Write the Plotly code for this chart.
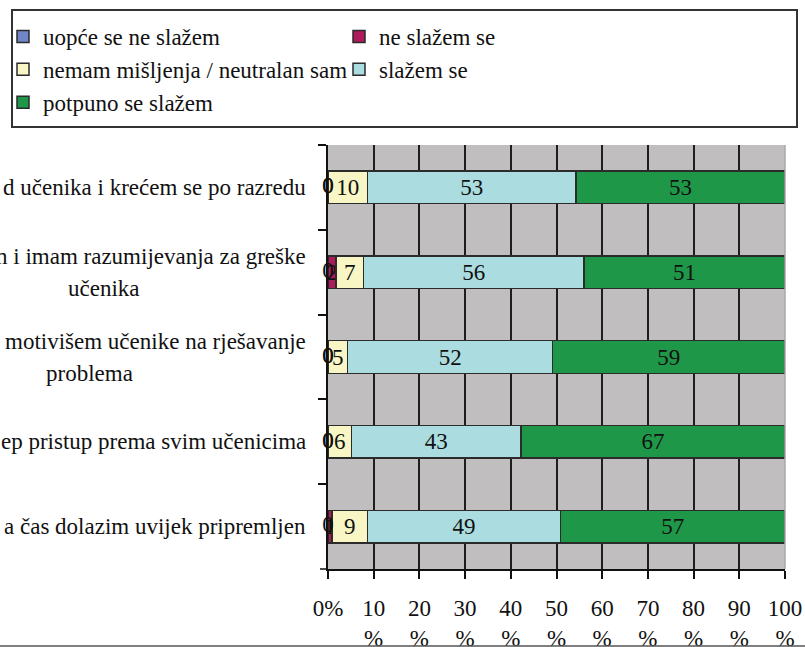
import plotly.graph_objects as go

# ---------------- data ----------------
categories = [
    "d učenika i krećem se po razredu",
    "n i imam razumijevanja za greške<br>učenika",
    "motivišem učenike na rješavanje<br>problema",
    "ep pristup prema svim učenicima",
    "a čas dolazim uvijek pripremljen",
]
series_names = [
    "uopće se ne slažem",
    "ne slažem se",
    "nemam mišljenja / neutralan sam",
    "slažem se",
    "potpuno se slažem",
]
uopce_se_ne_slazem = [0, 0, 0, 0, 0]
ne_slazem_se = [0, 2, 0, 0, 1]
neutralan = [10, 7, 5, 6, 9]
slazem_se = [53, 56, 52, 43, 49]
potpuno_se_slazem = [53, 51, 59, 67, 57]
x_tick_values = [0, 10, 20, 30, 40, 50, 60, 70, 80, 90, 100]
x_tick_labels = ["0%", "10<br>%", "20<br>%", "30<br>%", "40<br>%", "50<br>%",
                 "60<br>%", "70<br>%", "80<br>%", "90<br>%", "100<br>%"]

series_values = [uopce_se_ne_slazem, ne_slazem_se, neutralan, slazem_se, potpuno_se_slazem]
colors = ["#6F87C6", "#AE1A5C", "#F8F6C4", "#ABDDE0", "#1F9748"]

FONT = "Liberation Serif"
FS = 23

W, H = 805, 647
ML, MR, MT, MB = 328, 20, 145, 78
PW = W - ML - MR
PH = H - MT - MB


def px_x(px):
    return (px - ML) / PW


def px_y(py):
    return (H - MB - py) / PH


fig = go.Figure()
for name, vals, col in zip(series_names, series_values, colors):
    fig.add_trace(go.Bar(
        y=categories,
        x=vals,
        name=name,
        orientation="h",
        width=0.385,
        marker=dict(color=col, line=dict(color="#2b2b2b", width=1.5)),
        text=[str(v) for v in vals],
        texttemplate="%{text}",
        textposition=["none" if v == 0 else "inside" for v in vals],
        insidetextanchor="middle",
        constraintext="none",
        textfont=dict(family=FONT, size=FS, color="#111111"),
        cliponaxis=False,
        hoverinfo="skip",
    ))

# labels of zero-valued segments, drawn on top at their stacked position
totals = [sum(series_values[s][i] for s in range(len(series_values))) for i in range(len(categories))]
zero_x, zero_y, zero_t = [], [], []
for s, vals in enumerate(series_values):
    for i, v in enumerate(vals):
        if v == 0:
            before = sum(series_values[k][i] for k in range(s))
            zero_x.append(before / totals[i] * 100)
            zero_y.append(categories[i])
            zero_t.append(str(v))
fig.add_trace(go.Scatter(
    x=zero_x, y=zero_y, text=zero_t, mode="text", textposition="middle center",
    textfont=dict(family=FONT, size=FS, color="#111111"),
    showlegend=False, cliponaxis=False, hoverinfo="skip",
))

# category labels (visible parts, as in the reference)
second_line_centers = {1: 104, 2: 89}
annotations = []
for i, cat in enumerate(categories):
    lines = cat.split("<br>")
    if len(lines) == 1:
        annotations.append(dict(x=px_x(308), xref="paper", y=i, yref="y",
                                text=lines[0], showarrow=False, xanchor="right",
                                yanchor="middle", font=dict(family=FONT, size=FS, color="#111")))
    else:
        annotations.append(dict(x=px_x(308), xref="paper", y=i, yref="y", yshift=16,
                                text=lines[0], showarrow=False, xanchor="right",
                                yanchor="middle", font=dict(family=FONT, size=FS, color="#111")))
        annotations.append(dict(x=px_x(second_line_centers[i]), xref="paper", y=i, yref="y",
                                yshift=-16, text=lines[1], showarrow=False, xanchor="center",
                                yanchor="middle", font=dict(family=FONT, size=FS, color="#111")))

shapes = [
    # legend frame
    dict(type="rect", xref="paper", yref="paper",
         x0=px_x(12), x1=px_x(797), y0=px_y(127), y1=px_y(10),
         line=dict(color="#333333", width=2), fillcolor="rgba(0,0,0,0)", layer="above"),
    # light right border of plot area
    dict(type="line", xref="paper", yref="paper", x0=1, x1=1, y0=0, y1=1,
         line=dict(color="#A8A8A8", width=1.5), layer="above"),
    # short extension of the x axis line to the left of 0
    dict(type="line", xref="paper", yref="paper", x0=px_x(320), x1=0, y0=0, y1=0,
         line=dict(color="#111111", width=1.5)),
    # bottom frame line
    dict(type="line", xref="paper", yref="paper", x0=px_x(0), x1=px_x(805),
         y0=px_y(646), y1=px_y(646), line=dict(color="#555555", width=1.5)),
]

fig.update_layout(
    width=W, height=H,
    margin=dict(l=ML, r=MR, t=MT, b=MB, autoexpand=False),
    barmode="stack",
    barnorm="percent",
    paper_bgcolor="white",
    plot_bgcolor="#C0BEBF",
    font=dict(family=FONT, size=FS, color="#111111"),
    showlegend=True,
    legend=dict(
        orientation="h",
        x=px_x(3), xref="paper", xanchor="left",
        y=px_y(15), yref="paper", yanchor="top",
        entrywidth=291, entrywidthmode="pixels",
        font=dict(family=FONT, size=FS, color="#111111"),
        bgcolor="rgba(0,0,0,0)",
        borderwidth=0,
        traceorder="normal",
    ),
    xaxis=dict(
        range=[0, 100],
        tickmode="array", tickvals=x_tick_values, ticktext=x_tick_labels,
        showgrid=True, gridcolor="#1e1e1e", gridwidth=1.5,
        zeroline=False,
        showline=True, linecolor="#111111", linewidth=1.5,
        ticks="outside", ticklen=8, tickwidth=1.5, tickcolor="#111111",
        ticklabelstandoff=10,
        tickfont=dict(family=FONT, size=FS, color="#111111"),
        fixedrange=True,
    ),
    yaxis=dict(
        autorange="reversed",
        showticklabels=False,
        ticks="outside", tickson="boundaries", ticklen=8, tickwidth=1.5, tickcolor="#111111",
        showgrid=False, zeroline=False,
        showline=True, linecolor="#111111", linewidth=1.5,
        fixedrange=True,
    ),
    annotations=annotations,
    shapes=shapes,
)

fig.write_html("out.html", post_script="document.body.style.margin='0';",
               config={"displayModeBar": False})
